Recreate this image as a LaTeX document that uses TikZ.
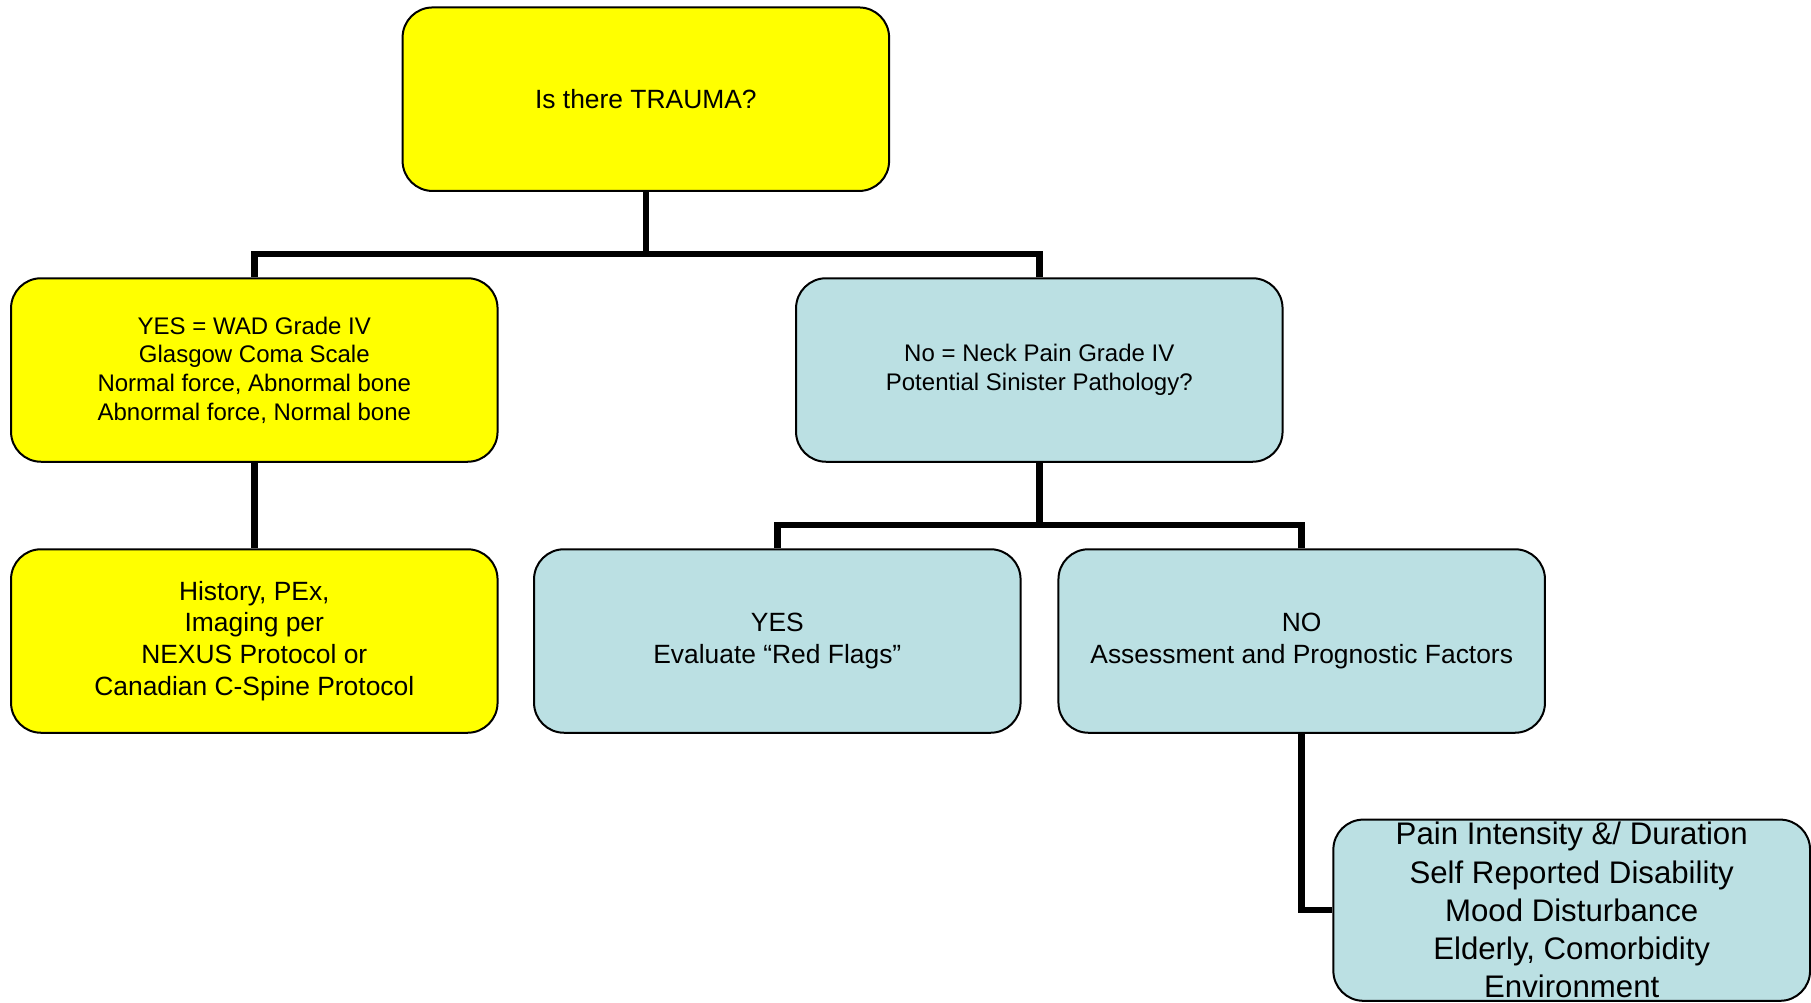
\documentclass[tikz,border=0pt]{standalone}
\usepackage{fontspec}
\setmainfont{Liberation Sans}
\definecolor{paleblue}{RGB}{187,224,227}
\definecolor{brightyellow}{RGB}{255,255,0}
\begin{document}
\begin{tikzpicture}[x=1pt,y=-1pt,
  box/.style={draw=black, line width=2pt, rounded corners=30pt, align=center,
    minimum width=486.5pt, minimum height=183.5pt, inner sep=0pt},
  yel/.style={box, fill=brightyellow},
  blu/.style={box, fill=paleblue},
  fa/.style={font=\fontsize{24}{28.7}\selectfont},
  fb/.style={font=\fontsize{26.4}{31.7}\selectfont},
  fc/.style={font=\fontsize{31.2}{38.2}\selectfont},
  conn/.style={line width=6.5pt, line join=miter}]
\useasboundingbox (0,0) rectangle (1811,1002);
\node[yel,fb] (top) at (645.85,99.2) {Is there TRAUMA?};
\node[yel,fa] (yes) at (254.3,370) {YES = WAD Grade IV\\Glasgow Coma Scale\\Normal force, Abnormal bone\\Abnormal force, Normal bone};
\node[yel,fb] (hist) at (254.3,641) {History, PEx,\\Imaging per\\NEXUS Protocol or\\Canadian C-Spine Protocol};
\node[blu,fa] (no) at (1039.3,370) {No = Neck Pain Grade IV\\Potential Sinister Pathology?};
\node[blu,fb] (red) at (777.3,641) {YES\\Evaluate “Red Flags”};
\node[blu,fb] (assess) at (1301.7,641) {NO\\Assessment and Prognostic Factors};
\node[blu,fc,minimum width=476.7pt,minimum height=181.2pt] (fac) at (1571.7,910.2) {Pain Intensity \&/ Duration\\Self Reported Disability\\Mood Disturbance\\Elderly, Comorbidity\\Environment};
\coordinate (j1) at (645.85,254);
\coordinate (j2) at (1039.3,525);
\draw[conn] (top.south) -- (j1);
\draw[conn] (yes.north) |- (j1);
\draw[conn] (no.north) |- (j1);
\draw[conn] (yes.south) -- (hist.north);
\draw[conn] (no.south) -- (j2);
\draw[conn] (red.north) |- (j2);
\draw[conn] (assess.north) |- (j2);
\draw[conn] (assess.south) |- (fac.west);
\end{tikzpicture}
\end{document}
